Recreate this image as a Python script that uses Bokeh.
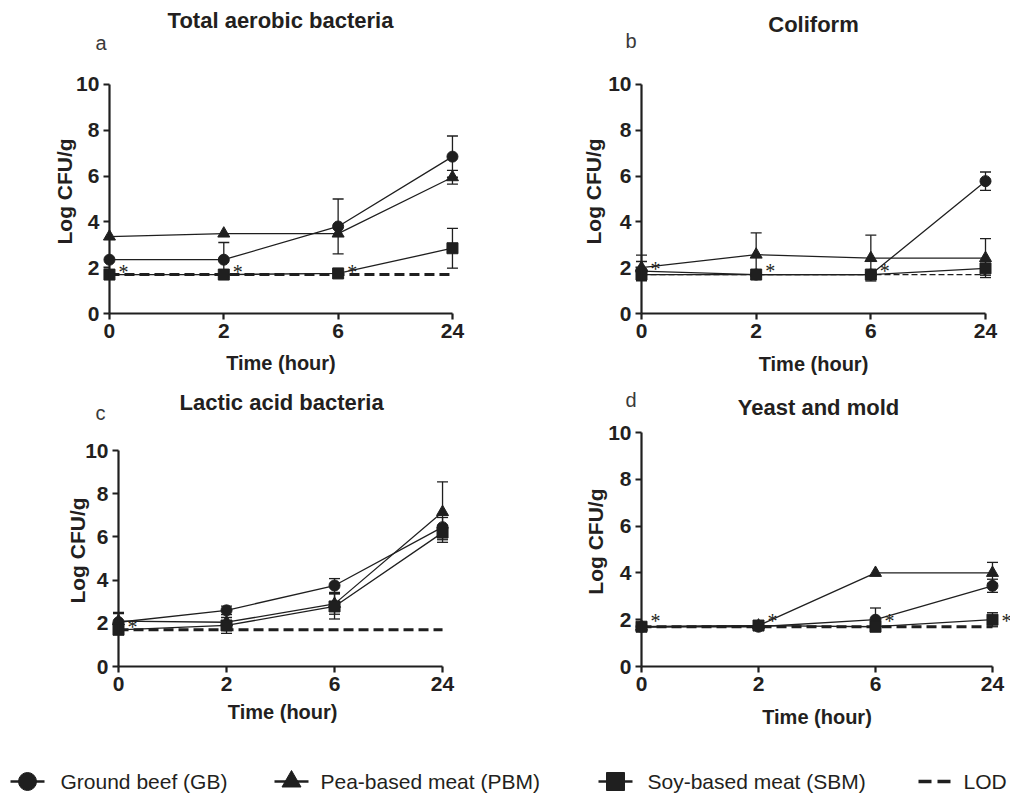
import math
from bokeh.plotting import figure
from bokeh.layouts import column, row
from bokeh.models import (Range1d, FixedTicker, Label, LabelSet, Whisker, TeeHead,
                          ColumnDataSource)
from bokeh.embed import file_html
from bokeh.resources import INLINE
from bokeh.core.properties import value

# ---------------- data ----------------
TIMES = ["0", "2", "6", "24"]
SERIES = ["Ground beef (GB)", "Pea-based meat (PBM)", "Soy-based meat (SBM)"]
LOD = 1.7

# (a) Total aerobic bacteria
a_gb = [2.35, 2.35, 3.8, 6.85]
a_gb_sd = [0.0, 0.75, 1.2, 0.9]
a_pbm = [3.36, 3.49, 3.49, 5.95]
a_pbm_sd = [0.0, 0.0, 0.0, 0.3]
a_sbm = [1.7, 1.7, 1.75, 2.85]
a_sbm_sd = [0.0, 0.0, 0.0, 0.87]
a_sig_t = [0, 1, 2]
a_sig_y = [2.0, 2.0, 2.0]

# (b) Coliform
b_gb = [1.85, 1.7, 1.7, 5.78]
b_gb_sd = [0.42, 0.0, 0.0, 0.4]
b_pbm = [2.0, 2.57, 2.42, 2.42]
b_pbm_sd = [0.55, 0.95, 1.0, 0.85]
b_sbm = [1.7, 1.7, 1.7, 1.97]
b_sbm_sd = [0.0, 0.0, 0.0, 0.3]
b_sig_t = [0, 1, 2]
b_sig_y = [2.1, 2.05, 2.05]

# (c) Lactic acid bacteria
c_gb = [2.05, 2.6, 3.75, 6.45]
c_gb_sd = [0.45, 0.2, 0.32, 0.45]
c_pbm = [2.1, 2.05, 2.9, 7.15]
c_pbm_sd = [0.35, 0.0, 0.48, 1.4]
c_sbm = [1.7, 1.9, 2.78, 6.2]
c_sbm_sd = [0.0, 0.37, 0.58, 0.33]
c_sig_t = [0]
c_sig_y = [2.0]

# (d) Yeast and mold
d_gb = [1.7, 1.7, 2.0, 3.45]
d_gb_sd = [0.0, 0.0, 0.5, 0.28]
d_pbm = [1.7, 1.75, 4.0, 4.0]
d_pbm_sd = [0.0, 0.0, 0.0, 0.45]
d_sbm = [1.7, 1.75, 1.7, 2.0]
d_sbm_sd = [0.0, 0.0, 0.2, 0.3]
d_sig_t = [0, 1, 2, 3]
d_sig_y = [2.1, 2.1, 2.1, 2.1]

Y_TICKS = [0, 2, 4, 6, 8, 10]

# ---------------- style ----------------
INK = "#1f1f1f"
TXT = "#231f20"
FONT = "Liberation Sans"


def make_panel(title, letter, series, sig_t, sig_y, g, lod_thick=True):
    p = figure(frame_width=g["w"], frame_height=g["h"],
               min_border=0,
               x_range=Range1d(*g["xr"]), y_range=Range1d(*g["yr"]),
               output_backend="svg", toolbar_location=None)
    p.outline_line_color = None
    p.xgrid.visible = False
    p.ygrid.visible = False
    p.background_fill_color = "white"

    xs = list(range(len(TIMES)))

    # LOD
    if lod_thick:
        p.line([xs[0], xs[-1]], [LOD, LOD], line_color=INK, line_width=3,
               line_dash="10 5")
    else:
        p.line([xs[0], xs[-1]], [LOD, LOD], line_color=INK, line_width=1.2,
               line_dash="6 3")

    markers = ["circle", "triangle", "square"]
    msizes = [11, 12, 11]
    for (vals, sds), mk, ms in zip(series, markers, msizes):
        ex = [x for x, s in zip(xs, sds) if s > 0]
        ev = [v for v, s in zip(vals, sds) if s > 0]
        es = [s for s in sds if s > 0]
        if ex:
            src = ColumnDataSource(dict(x=ex, upper=[v + s for v, s in zip(ev, es)],
                                        lower=[v - s for v, s in zip(ev, es)]))
            w = Whisker(source=src, base="x", upper="upper", lower="lower",
                        line_color=INK, line_width=1.3, level="underlay",
                        upper_head=TeeHead(size=11, line_color=INK, line_width=1.3),
                        lower_head=TeeHead(size=11, line_color=INK, line_width=1.3))
            p.add_layout(w)
        p.line(xs, vals, line_color=INK, line_width=1.3)
        p.scatter(xs, vals, marker=mk, size=ms, fill_color=INK, line_color=INK)

    # significance asterisks
    ssrc = ColumnDataSource(dict(x=sig_t, y=sig_y, t=["*"] * len(sig_t)))
    p.add_layout(LabelSet(x="x", y="y", text="t", source=ssrc, x_offset=14,
                          y_offset=-4, text_font=FONT, text_font_size="20px",
                          text_color=TXT, text_align="center",
                          text_baseline="middle"))

    # axes (placed at x=0 / y=0 inside the frame)
    p.xaxis.ticker = FixedTicker(ticks=xs)
    p.xaxis.major_label_overrides = {i: t for i, t in enumerate(TIMES)}
    p.xaxis.bounds = (xs[0], xs[-1])
    p.xaxis.fixed_location = 0
    p.yaxis.ticker = FixedTicker(ticks=Y_TICKS)
    p.yaxis.bounds = (0, 10)
    p.yaxis.fixed_location = 0
    for ax in (p.xaxis, p.yaxis):
        ax.axis_line_color = INK
        ax.axis_line_width = 2.2
        ax.major_tick_line_color = INK
        ax.major_tick_line_width = 2.2
        ax.major_tick_out = 6
        ax.major_tick_in = 0
        ax.minor_tick_line_color = None
        ax.major_label_text_font = FONT
        ax.major_label_text_font_style = "bold"
        ax.major_label_text_font_size = "21px"
        ax.major_label_text_color = TXT
        ax.major_label_standoff = 4

    # axis titles, panel title and letter
    p.add_layout(Label(x=g["yl"][0], y=g["yl"][1], text="Log CFU/g", angle=math.pi / 2,
                       text_font=FONT, text_font_style="bold", text_font_size="21px",
                       text_color=TXT, text_align="center", text_baseline="middle"))
    p.add_layout(Label(x=g["xl"][0], y=g["xl"][1], text="Time (hour)",
                       text_font=FONT, text_font_style="bold", text_font_size="20px",
                       text_color=TXT, text_align="center", text_baseline="alphabetic"))
    p.add_layout(Label(x=g["t"][0], y=g["t"][1], text=title, text_font=FONT,
                       text_font_style="bold", text_font_size="22px",
                       text_color=TXT, text_align="center",
                       text_baseline="alphabetic"))
    p.add_layout(Label(x=g["l"][0], y=g["l"][1], text=letter, text_font=FONT,
                       text_font_size="20px", text_color="#3a3a3a",
                       text_align="left", text_baseline="alphabetic"))
    return p


GEOM_A = dict(w=548, h=385, xr=(-0.953, 3.84), yr=(-3.144, 13.668),
              yl=(-0.394, 5.33), xl=(1.5, -2.14), t=(1.496, 12.80), l=(-0.122, 11.83))
GEOM_B = dict(w=462, h=385, xr=(-0.811, 3.218), yr=(-3.144, 13.668),
              yl=(-0.419, 5.33), xl=(1.5, -2.19), t=(1.50, 12.60), l=(-0.14, 11.90))
GEOM_C = dict(w=548, h=350, xr=(-1.0926, 3.981), yr=(-3.194, 13.01),
              yl=(-0.38, 5.37), xl=(1.52, -2.09), t=(1.51, 12.24), l=(-0.213, 11.73))
GEOM_D = dict(w=462, h=350, xr=(-0.795, 3.154), yr=(-2.949, 12.01),
              yl=(-0.393, 5.34), xl=(1.50, -2.14), t=(1.513, 11.07), l=(-0.137, 11.37))

pa = make_panel("Total aerobic bacteria", "a",
                [(a_gb, a_gb_sd), (a_pbm, a_pbm_sd), (a_sbm, a_sbm_sd)],
                a_sig_t, a_sig_y, GEOM_A)
pb = make_panel("Coliform", "b",
                [(b_gb, b_gb_sd), (b_pbm, b_pbm_sd), (b_sbm, b_sbm_sd)],
                b_sig_t, b_sig_y, GEOM_B, lod_thick=False)
pc = make_panel("Lactic acid bacteria", "c",
                [(c_gb, c_gb_sd), (c_pbm, c_pbm_sd), (c_sbm, c_sbm_sd)],
                c_sig_t, c_sig_y, GEOM_C)
pd_ = make_panel("Yeast and mold", "d",
                 [(d_gb, d_gb_sd), (d_pbm, d_pbm_sd), (d_sbm, d_sbm_sd)],
                 d_sig_t, d_sig_y, GEOM_D)

# ---------------- legend strip ----------------
LW, LH = 1010, 62
leg = figure(width=LW, height=LH, x_range=Range1d(0, LW), y_range=Range1d(0, LH),
             min_border=0, output_backend="svg", toolbar_location=None)
leg.outline_line_color = None
leg.axis.visible = False
leg.grid.visible = False
ly = 16
items = [("circle", 27, 60, 18), ("triangle", 291, 320, 19), ("square", 615, 647, 18)]
for (mk, cx, tx, ms), name in zip(items, SERIES):
    leg.line([cx - 17, cx + 17], [ly, ly], line_color=INK, line_width=2.5)
    leg.scatter([cx], [ly], marker=mk, size=ms, fill_color=INK, line_color=INK)
    leg.text([tx], [ly], text=[name], text_font=value(FONT), text_font_size="21px",
             text_color=TXT, text_baseline="middle", text_align="left")
leg.line([918, 950], [ly, ly], line_color=INK, line_width=3.5, line_dash="13 6")
leg.text([963], [ly], text=["LOD"], text_font=value(FONT), text_font_size="21px",
         text_color=TXT, text_baseline="middle", text_align="left")

layout = column(row(pa, pb), row(pc, pd_), leg)
open("out.html", "w").write(file_html(layout, INLINE))
